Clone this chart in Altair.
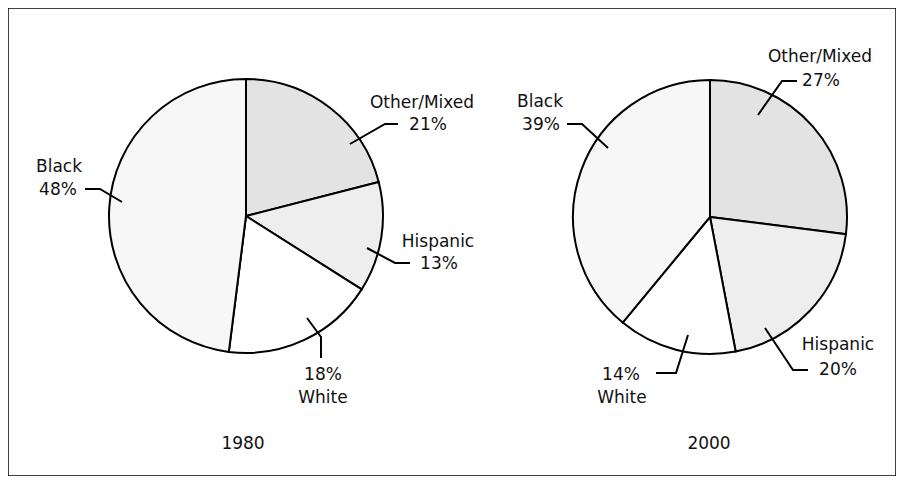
import altair as alt
import pandas as pd

# ---- data ----
categories = ["Other/Mixed", "Hispanic", "White", "Black"]
share_1980 = [21, 13, 18, 48]
share_2000 = [27, 20, 14, 39]
years = ["1980", "2000"]

# label texts (two lines per slice)
label_lines_1980 = [["Other/Mixed", "21%"], ["Hispanic", "13%"], ["18%", "White"], ["Black", "48%"]]
label_lines_2000 = [["Other/Mixed", "27%"], ["Hispanic", "20%"], ["14%", "White"], ["Black", "39%"]]

# ---- layout (reference pixel coordinates) ----
W, H = 888, 468
X0, Y0 = 8, 8
R = 137
pie_center = {"1980": (246, 216), "2000": (710, 217)}
fill_colors = ["#e3e3e3", "#eeeeee", "#ffffff", "#f7f7f7"]
FONT = "DejaVu Sans"
FS = 17

label_pos = {
    "1980": [[(422, 103), (428, 125)], [(438, 242), (439, 264)],
             [(323, 375), (323, 398)], [(59, 167), (58, 190)]],
    "2000": [[(820, 57), (821, 81)], [(838, 345), (838, 370)],
             [(621, 375), (622, 398)], [(540, 102), (541, 125)]],
}
leaders = {
    "1980": [[(398, 124), (385, 124), (350, 144)],
             [(367, 248), (395, 263), (410, 263)],
             [(307, 318), (321, 337), (321, 358)],
             [(85, 189), (100, 189), (122, 202)]],
    "2000": [[(797, 81), (782, 81), (758, 115)],
             [(765, 328), (793, 370), (808, 370)],
             [(688, 335), (676, 373), (656, 373)],
             [(567, 124), (582, 124), (608, 148)]],
}
year_pos = {"1980": (243, 444), "2000": (709, 444)}

# ---- tables ----
rows = []
for yr, vals in zip(years, [share_1980, share_2000]):
    for i, (c, v) in enumerate(zip(categories, vals)):
        rows.append(dict(year=yr, category=c, share=v, idx=i))
pie_df = pd.DataFrame(rows)

txt_rows = []
for yr, lines in zip(years, [label_lines_1980, label_lines_2000]):
    for k, pair in enumerate(lines):
        for j, t in enumerate(pair):
            px, py = label_pos[yr][k][j]
            txt_rows.append(dict(x=px, y=py, text=t))
    px, py = year_pos[yr]
    txt_rows.append(dict(x=px, y=py, text=yr))
txt_df = pd.DataFrame(txt_rows)

line_rows = []
for yr in years:
    for k, pts in enumerate(leaders[yr]):
        for s, (px, py) in enumerate(pts):
            line_rows.append(dict(id=f"{yr}-{k}", seq=s, x=px, y=py))
line_df = pd.DataFrame(line_rows)

xs = alt.Scale(domain=[X0, X0 + W], range=[0, W])
ys = alt.Scale(domain=[Y0, Y0 + H], range=[0, H])


def pie(yr):
    cx, cy = pie_center[yr]
    return alt.Chart(pie_df).transform_filter(alt.datum.year == yr).mark_arc(
        outerRadius=R, stroke="black", strokeWidth=2
    ).encode(
        theta=alt.Theta("share:Q", stack=True),
        order=alt.Order("idx:Q"),
        color=alt.Color("category:N", scale=alt.Scale(domain=categories, range=fill_colors), legend=None),
        x=alt.value(cx - X0),
        y=alt.value(cy - Y0),
    )


lines = alt.Chart(line_df).mark_line(color="black", strokeWidth=2).encode(
    x=alt.X("x:Q", scale=xs, axis=None),
    y=alt.Y("y:Q", scale=ys, axis=None),
    detail="id:N",
    order="seq:Q",
)

texts = alt.Chart(txt_df).mark_text(
    font=FONT, fontSize=FS, color="#111111", align="center", baseline="middle"
).encode(
    x=alt.X("x:Q", scale=xs, axis=None),
    y=alt.Y("y:Q", scale=ys, axis=None),
    text="text:N",
)

chart = alt.layer(pie("1980"), pie("2000"), lines, texts).resolve_scale(
    theta="independent"
).properties(
    width=W, height=H, autosize=alt.AutoSizeParams(type="none"), padding=0
).configure_view(stroke="black", strokeWidth=1.5)

chart.save("out.html", embed_options={"renderer": "svg", "actions": False})
